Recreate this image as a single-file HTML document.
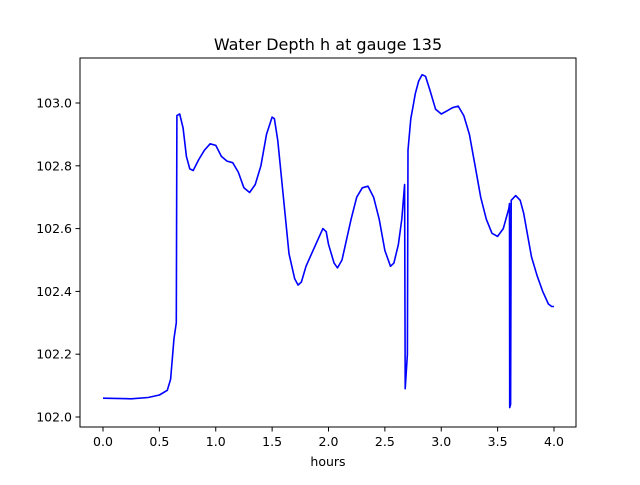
<!DOCTYPE html>
<html><head><meta charset="utf-8"><style>
body{margin:0;background:#fff}
svg text{font-family:"DejaVu Sans","Liberation Sans",sans-serif;fill:#000}
</style></head><body>
<svg id="chart" width="640" height="480">
<rect width="640" height="480" fill="#fff"/>
<text x="328" y="50" font-size="16" text-anchor="middle">Water Depth h at gauge 135</text>
<g id="xt"></g>
<g id="yt"></g>
<path id="line" fill="none" stroke="#0000ff" stroke-width="1.6" stroke-linejoin="round"/>
<rect x="80" y="58" width="496" height="369" fill="none" stroke="#000" stroke-width="1"/>
<text x="328" y="466" font-size="12.5" text-anchor="middle">hours</text>
</svg>
<script>
const hours=[0,0.25,0.4,0.5,0.57,0.6,0.63,0.65,0.655,0.68,0.71,0.74,0.77,0.8,0.85,0.9,0.95,1.0,1.05,1.1,1.15,1.2,1.25,1.3,1.35,1.4,1.45,1.5,1.52,1.55,1.6,1.65,1.7,1.73,1.76,1.8,1.85,1.9,1.95,1.98,2.0,2.05,2.08,2.12,2.2,2.25,2.3,2.35,2.4,2.45,2.5,2.55,2.58,2.62,2.65,2.675,2.68,2.7,2.705,2.73,2.75,2.77,2.8,2.83,2.86,2.9,2.95,3.0,3.05,3.1,3.15,3.2,3.25,3.3,3.35,3.4,3.45,3.5,3.55,3.6,3.605,3.607,3.615,3.62,3.66,3.7,3.73,3.77,3.8,3.85,3.9,3.95,3.98,4.0];
const depth=[102.06,102.058,102.062,102.07,102.085,102.12,102.25,102.3,102.96,102.965,102.92,102.83,102.79,102.785,102.82,102.85,102.87,102.865,102.83,102.815,102.81,102.78,102.73,102.715,102.74,102.8,102.9,102.955,102.95,102.88,102.7,102.52,102.44,102.42,102.43,102.48,102.52,102.56,102.6,102.59,102.55,102.49,102.475,102.5,102.63,102.7,102.73,102.735,102.7,102.63,102.53,102.48,102.49,102.55,102.63,102.74,102.09,102.2,102.85,102.95,102.99,103.03,103.07,103.09,103.085,103.04,102.98,102.965,102.975,102.985,102.99,102.96,102.9,102.8,102.7,102.63,102.585,102.575,102.6,102.665,102.68,102.03,102.04,102.69,102.705,102.69,102.65,102.57,102.51,102.45,102.4,102.36,102.352,102.352];
const xTicks=[0,0.5,1,1.5,2,2.5,3,3.5,4];
const xTickLabels=["0.0","0.5","1.0","1.5","2.0","2.5","3.0","3.5","4.0"];
const yTicks=[102.0,102.2,102.4,102.6,102.8,103.0];
const yTickLabels=["102.0","102.2","102.4","102.6","102.8","103.0"];
const X=v=>103+v*112.75;
const Y=v=>103-(v-103)*314;
const NS="http://www.w3.org/2000/svg";
const xt=document.getElementById('xt'),yt=document.getElementById('yt');
xTicks.forEach((t,i)=>{
 const l=document.createElementNS(NS,'line');
 l.setAttribute('x1',X(t));l.setAttribute('x2',X(t));l.setAttribute('y1',427);l.setAttribute('y2',431.5);l.setAttribute('stroke','#000');
 
 
 xt.appendChild(l);
 const tx=document.createElementNS(NS,'text');
 tx.setAttribute('x',X(t));tx.setAttribute('y',446);tx.setAttribute('font-size','12.5');tx.setAttribute('text-anchor','middle');
 tx.textContent=xTickLabels[i];
 
 
 xt.appendChild(tx);
});
yTicks.forEach((t,i)=>{
 const l=document.createElementNS(NS,'line');
 l.setAttribute('x1',75.5);l.setAttribute('x2',80);l.setAttribute('y1',Y(t));l.setAttribute('y2',Y(t));l.setAttribute('stroke','#000');
 
 
 yt.appendChild(l);
 const tx=document.createElementNS(NS,'text');
 tx.setAttribute('x',72);tx.setAttribute('y',Y(t)+4.5);tx.setAttribute('font-size','12.5');tx.setAttribute('text-anchor','end');
 tx.textContent=yTickLabels[i];
 
 
 yt.appendChild(tx);
});
document.getElementById('line').setAttribute('d',hours.map((h,i)=>(i?'L':'M')+X(h).toFixed(1)+' '+Y(depth[i]).toFixed(1)).join(' '));
</script>
</body></html>
